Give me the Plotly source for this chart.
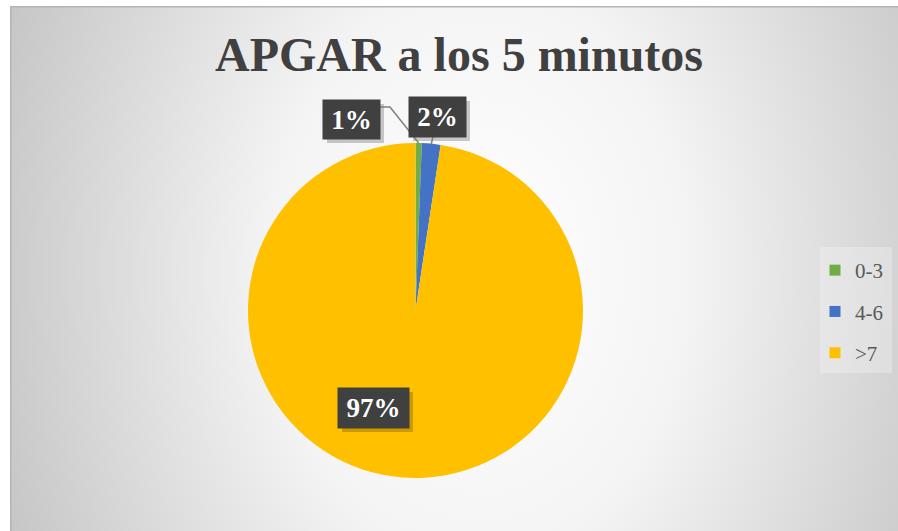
import base64
import math
import plotly.graph_objects as go

# ---- data ----
categories = ["0-3", "4-6", ">7"]
values = [0.6, 1.8, 97.6]
label_texts = ["1%", "2%", "97%"]
colors = ["#70AD47", "#4472C4", "#FFC000"]
title_text = "APGAR a los 5 minutos"

W, H = 898, 531


def px(x):
    return x / W


def py(y):
    return 1 - y / H


# pie geometry (pixels)
CX, CY, R = 415.5, 310.5, 167.5

# background: radial gradient card with border
svg = f'''<svg xmlns="http://www.w3.org/2000/svg" width="888" height="525" viewBox="0 0 888 525">
<defs><radialGradient id="g" gradientUnits="userSpaceOnUse" cx="0" cy="0" r="1"
 gradientTransform="translate(470 265) scale(520 720)">
<stop offset="0" stop-color="#ffffff"/><stop offset="0.4" stop-color="#f4f4f4"/>
<stop offset="1" stop-color="#c4c4c4"/></radialGradient></defs>
<rect x="0" y="0" width="888" height="525" fill="url(#g)"/>
<path d="M0.75 525 L0.75 0.75 L888 0.75" fill="none" stroke="#b4b4b4" stroke-width="1.5"/>
</svg>'''
src = "data:image/svg+xml;base64," + base64.b64encode(svg.encode()).decode()

fig = go.Figure()

fig.add_trace(go.Pie(
    labels=categories,
    values=values,
    marker=dict(colors=colors, line=dict(width=0)),
    sort=False,
    direction="clockwise",
    rotation=0,
    textinfo="none",
    showlegend=False,
    domain=dict(x=[px(CX - R), px(CX + R)], y=[py(CY + R), py(CY - R)]),
    hovertemplate="%{label}: %{percent}<extra></extra>",
))

# legend entries
for cat, col in zip(categories, colors):
    fig.add_trace(go.Scatter(
        x=[None], y=[None], mode="markers", name=cat, legendgroup=cat,
        marker=dict(symbol="square", size=11, color=col),
    ))

# slice mid-angles computed from data
total = sum(values)
cum = 0
mids = []
for v in values:
    a = (cum + v / 2) / total * 2 * math.pi
    mids.append((CX + R * math.sin(a), CY - R * math.cos(a)))
    cum += v

# data label boxes (center x, center y, w, h) in pixels
boxes = [(351.5, 119.5, 57, 39), (437.5, 117, 57, 40), (373.5, 408, 71, 40)]

shapes = [
    # legend background panel
    dict(type="rect", xref="paper", yref="paper",
         x0=px(820), x1=px(892), y0=py(373), y1=py(247),
         fillcolor="rgba(255,255,255,0.25)", line=dict(width=0), layer="below"),
]
annotations = []
for (bx, by, bw, bh), txt in zip(boxes, label_texts):
    shapes.append(dict(
        type="rect", xref="paper", yref="paper",
        x0=px(bx - bw / 2 + 4), x1=px(bx + bw / 2 + 4),
        y0=py(by + bh / 2 + 4), y1=py(by - bh / 2 + 4),
        fillcolor="rgba(0,0,0,0.2)", line=dict(width=0), layer="above",
    ))
    annotations.append(dict(
        x=px(bx), y=py(by), xref="paper", yref="paper",
        text=txt, showarrow=False, xanchor="center", yanchor="middle",
        width=bw, height=bh, borderpad=0, bgcolor="#404040",
        font=dict(family="Liberation Serif", size=27, color="white", weight="bold"),
    ))

# leader lines
g = mids[0]
shapes.append(dict(
    type="path", xref="paper", yref="paper",
    path=f"M {px(380)} {py(107)} L {px(390)} {py(107)} L {px(g[0])} {py(g[1])}",
    line=dict(color="#7f7f7f", width=1.5), layer="above",
))
b = mids[1]
shapes.append(dict(
    type="path", xref="paper", yref="paper",
    path=f"M {px(433)} {py(137)} L {px(b[0])} {py(b[1])}",
    line=dict(color="#7f7f7f", width=1.5), layer="above",
))

fig.update_layout(
    width=W, height=H,
    margin=dict(l=0, r=0, t=0, b=0),
    paper_bgcolor="white",
    plot_bgcolor="rgba(0,0,0,0)",
    images=[dict(source=src, xref="paper", yref="paper", x=px(10), y=py(6),
                 sizex=888 / W, sizey=525 / H, sizing="stretch",
                 xanchor="left", yanchor="top", layer="below")],
    title=dict(text=title_text, x=459 / W, xanchor="center", y=1 - 54 / H,
               yanchor="middle", yref="container",
               font=dict(family="Liberation Serif", size=48, color="#404040", weight="bold")),
    xaxis=dict(visible=False),
    yaxis=dict(visible=False),
    legend=dict(x=px(815), y=py(250), xanchor="left", yanchor="top",
                bgcolor="rgba(0,0,0,0)", borderwidth=0,
                font=dict(family="Liberation Serif", size=21, color="#595959"),
                tracegroupgap=11, itemwidth=30),
    shapes=shapes,
    annotations=annotations,
)

fig.write_html("out.html", config={"displayModeBar": False},
               post_script="document.body.style.margin='0';")
